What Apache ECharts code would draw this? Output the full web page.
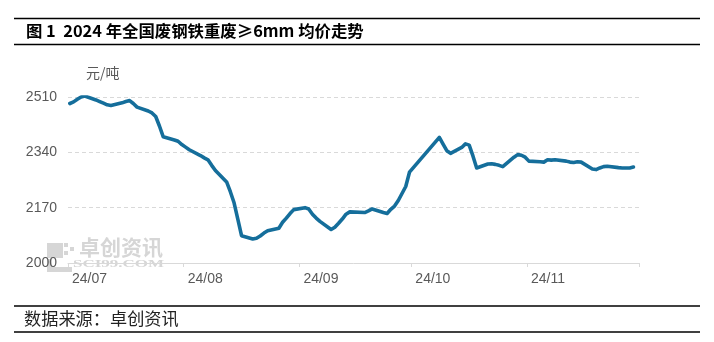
<!DOCTYPE html>
<html>
<head>
<meta charset="utf-8">
<script src="https://cdn.jsdelivr.net/npm/echarts@6/dist/echarts.min.js"></script>
<style>
html,body{margin:0;padding:0;background:#fff;}
#c{width:714px;height:342px;}
</style>
</head>
<body>
<div id="c"></div>
<script>
var titleText = '图 1  2024 年全国废钢铁重废≥6mm 均价走势';
var sourceText = '数据来源：卓创资讯';
var unitText = '元/吨';
var year = 2024;
var dates = ['07-01','07-02','07-03','07-04','07-05','07-08','07-09','07-10','07-11','07-12','07-15','07-16','07-17','07-18','07-19','07-22','07-23','07-24','07-25','07-26','07-29','07-30','07-31','08-01','08-02','08-05','08-06','08-07','08-08','08-09','08-12','08-13','08-14','08-15','08-16','08-19','08-20','08-21','08-22','08-23','08-26','08-27','08-28','08-29','08-30','09-02','09-03','09-04','09-05','09-06','09-09','09-10','09-11','09-12','09-13','09-14','09-18','09-19','09-20','09-23','09-24','09-25','09-26','09-27','09-29','09-30','10-08','10-09','10-10','10-11','10-12','10-14','10-15','10-16','10-17','10-18','10-21','10-22','10-23','10-24','10-25','10-28','10-29','10-30','10-31','11-01','11-04','11-05','11-06','11-07','11-08','11-11','11-12','11-13','11-14','11-15','11-18','11-19','11-20','11-21','11-22','11-25','11-26','11-27','11-28','11-29'];
var prices = [2490,2495,2503,2510,2513,2501,2496,2491,2486,2484,2492,2496,2499,2490,2479,2467,2461,2450,2421,2388,2378,2374,2364,2356,2348,2330,2323,2317,2300,2284,2249,2219,2185,2135,2084,2074,2076,2083,2092,2099,2107,2125,2138,2152,2164,2170,2166,2150,2138,2128,2103,2110,2122,2135,2150,2157,2155,2160,2166,2155,2152,2165,2175,2192,2235,2279,2386,2365,2345,2337,2343,2355,2366,2362,2329,2292,2304,2305,2303,2300,2296,2325,2333,2331,2325,2313,2311,2310,2317,2316,2317,2313,2310,2309,2311,2310,2289,2287,2292,2296,2297,2293,2292,2292,2292,2295];
var monthStarts = ['07-01','08-01','09-01','10-01','11-01','12-01'];
var monthLabels = ['24/07','24/08','24/09','24/10','24/11'];
var yTicks = [2000,2170,2340,2510];

var base = Date.UTC(year, 6, 1);
function dayIdx(s){
  var p = s.split('-');
  return (Date.UTC(year, +p[0]-1, +p[1]) - base) / 86400000;
}
var tickVals = monthStarts.map(dayIdx);
var labelVals = tickVals.slice(0, monthLabels.length);
var seriesData = dates.map(function(d, i){ return [dayIdx(d) + 0.5, prices[i]]; });

var chart = echarts.init(document.getElementById('c'), null, {renderer:'canvas'});
var grey = '#d9d9d9';
var wmc = '#d6d6d6';
chart.setOption({
  animation:false,
  backgroundColor:'#fff',
  grid:{left:68, right:75, top:97, bottom:79, containLabel:false},
  xAxis:{
    type:'value', min:tickVals[0], max:tickVals[tickVals.length-1],
    axisLine:{show:true, lineStyle:{color:grey, width:1}},
    axisTick:{show:true, customValues:tickVals, length:4, lineStyle:{color:grey}},
    splitLine:{show:false},
    axisLabel:{
      customValues:labelVals, align:'left', margin:9,
      color:'#595959', fontSize:14, fontFamily:'Liberation Sans, Arial, sans-serif',
      padding:[0,0,0,4],
      formatter:function(v){ var i = labelVals.indexOf(v); return i>=0 ? monthLabels[i] : ''; }
    }
  },
  yAxis:{
    type:'value', min:yTicks[0], max:yTicks[yTicks.length-1], interval:yTicks[1]-yTicks[0],
    axisLine:{show:false}, axisTick:{show:false},
    splitLine:{show:true, lineStyle:{color:grey, type:[4,3], width:1}},
    axisLabel:{color:'#595959', fontSize:14, margin:11, fontFamily:'Liberation Sans, Arial, sans-serif',
      formatter:function(v){ return String(v); }}
  },
  series:[{
    type:'line', data:seriesData, showSymbol:false, smooth:false,
    lineStyle:{color:'#156e9b', width:3.6, join:'round', cap:'round'},
    z:5
  }],
  graphic:[
    {type:'line', shape:{x1:14,y1:18.5,x2:700,y2:18.5}, style:{stroke:'#000', lineWidth:1.3}},
    {type:'line', shape:{x1:14,y1:44.5,x2:700,y2:44.5}, style:{stroke:'#000', lineWidth:1.3}},
    {type:'text', left:26, top:23, style:{text:titleText, fill:'#000', font:'bold 16.4px "Noto Sans CJK SC", sans-serif'}},
    {type:'line', shape:{x1:14,y1:306,x2:700,y2:306}, style:{stroke:'#000', lineWidth:1.3}},
    {type:'line', shape:{x1:14,y1:332,x2:700,y2:332}, style:{stroke:'#000', lineWidth:1.3}},
    {type:'text', left:24, top:310, style:{text:sourceText, fill:'#222', font:'17.2px "Noto Sans CJK SC", sans-serif'}},
    {type:'text', left:86, top:66, style:{text:unitText, fill:'#595959', font:'14px "Noto Sans CJK SC", sans-serif'}},
    {type:'rect', shape:{x:47,y:243,width:16,height:15}, style:{fill:wmc}, z:-1},
    {type:'rect', shape:{x:64,y:243,width:4,height:4}, style:{fill:wmc}, z:-1},
    {type:'rect', shape:{x:70,y:247,width:4,height:4}, style:{fill:wmc}, z:-1},
    {type:'rect', shape:{x:64,y:251,width:4,height:4}, style:{fill:wmc}, z:-1},
    {type:'rect', shape:{x:47,y:259,width:5,height:13}, style:{fill:wmc}, z:-1},
    {type:'rect', shape:{x:52,y:267,width:20,height:5}, style:{fill:wmc}, z:-1},
    {type:'text', x:79, y:237, style:{text:'卓创资讯', fill:wmc, font:'bold 21px "Noto Sans CJK SC", sans-serif'}, z:-1},
    {type:'text', x:73, y:259, scaleX:1.7, style:{text:'SCI99.COM', fill:wmc, font:'bold 10px "Liberation Serif", serif'}, z:-1}
  ]
});
</script>
</body>
</html>
